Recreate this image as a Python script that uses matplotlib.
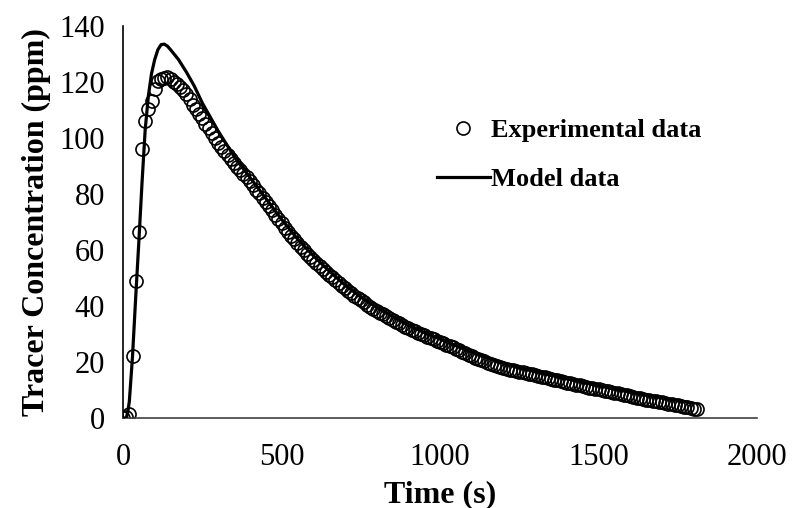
import numpy as np
import matplotlib
matplotlib.use("Agg")
import matplotlib.pyplot as plt

# measured tracer response, sampled every 10 s
exp_time = np.arange(0, 1820, 10)
exp_conc = [
    0.0, 0.4, 1.3, 22.2, 49.0, 66.5, 96.0, 106.0, 110.2, 113.3,
    117.6, 120.3, 121.0, 121.3, 121.6, 120.9, 120.1, 119.4, 118.3, 117.0,
    115.8, 114.0, 111.7, 110.2, 108.6, 107.2, 105.1, 103.4, 101.6, 100.1,
    98.3, 96.9, 95.2, 94.0, 92.5, 91.1, 89.7, 88.4, 87.1, 86.0,
    84.7, 83.2, 81.6, 80.2, 78.7, 77.3, 75.6, 74.2, 72.6, 71.1,
    69.5, 68.0, 66.6, 65.1, 63.8, 62.4, 61.1, 59.9, 58.6, 57.5,
    56.3, 55.3, 54.2, 53.1, 52.2, 51.2, 50.2, 49.2, 48.3, 47.3,
    46.3, 45.4, 44.5, 43.6, 42.8, 42.0, 41.3, 40.5, 39.8, 39.0,
    38.3, 37.6, 37.0, 36.3, 35.7, 35.0, 34.4, 33.8, 33.2, 32.6,
    32.0, 31.5, 31.0, 30.4, 29.9, 29.5, 29.0, 28.5, 28.1, 27.6,
    27.2, 26.7, 26.2, 25.8, 25.3, 24.8, 24.2, 23.7, 23.1, 22.6,
    22.0, 21.6, 21.1, 20.7, 20.2, 19.8, 19.4, 19.0, 18.6, 18.3,
    17.9, 17.6, 17.3, 17.0, 16.8, 16.5, 16.3, 16.0, 15.8, 15.6,
    15.4, 15.1, 14.8, 14.6, 14.3, 14.0, 13.7, 13.5, 13.2, 13.0,
    12.7, 12.4, 12.2, 11.9, 11.7, 11.4, 11.2, 10.9, 10.7, 10.5,
    10.3, 10.0, 9.7, 9.5, 9.2, 9.0, 8.8, 8.5, 8.3, 8.1,
    7.9, 7.6, 7.2, 7.0, 6.8, 6.6, 6.4, 6.2, 6.0, 5.8,
    5.7, 5.5, 5.2, 5.0, 4.8, 4.6, 4.3, 4.1, 3.9, 3.6,
    3.4, 3.2,
]

# model prediction
model_time = [0, 10, 15, 20, 30, 40, 50, 60, 70, 80, 90, 100, 110, 120, 130,
              140, 150, 175, 200, 225, 250, 300, 350, 400, 450, 500, 550, 600,
              650, 700, 750, 800, 850, 900, 950, 1000, 1100, 1200, 1300, 1400,
              1500, 1600, 1700, 1790]
model_conc = [0.0, 0.0, 2.0, 6.0, 22.0, 43.0, 63.0, 84.0, 103.0, 115.0, 123.0,
              128.0, 131.5, 133.3, 133.5, 132.8, 131.5, 128.0, 123.5, 118.5,
              112.5, 102.5, 93.5, 86.0, 78.5, 71.0, 64.0, 58.0, 52.5, 47.5,
              43.2, 39.5, 36.2, 33.2, 30.5, 28.2, 23.5, 19.5, 16.5, 14.0,
              11.5, 9.2, 7.2, 5.5]

plt.rcParams['font.family'] = ['Liberation Serif', 'DejaVu Serif']

fig = plt.figure(figsize=(7.92, 5.08), dpi=100)
ax = fig.add_axes([0.1553, 0.177, 0.8007, 0.772])

ax.plot(exp_time, exp_conc, linestyle='none', marker='o', markersize=9.4,
        markerfacecolor='none', markeredgecolor='black', markeredgewidth=1.2,
        label='Experimental data', zorder=2)
ax.plot(model_time, model_conc, color='black', linewidth=2.3,
        label='Model data', zorder=3)

ax.set_xlim(0, 2000)
ax.set_ylim(0, 140)
ax.set_xticks([0, 500, 1000, 1500, 2000])
ax.set_yticks(range(0, 141, 20))
ax.tick_params(axis='both', length=0, labelsize=22)
ax.tick_params(axis='y', pad=13)
ax.tick_params(axis='x', pad=18)

for side in ['top', 'right']:
    ax.spines[side].set_visible(False)
ax.spines['left'].set_linewidth(1.2)
ax.spines['bottom'].set_linewidth(1.2)
ax.spines['bottom'].set_color('#404040')

ax.set_xlabel('Time (s)', fontsize=23, fontweight='bold', labelpad=6)
ax.set_ylabel('Tracer Concentration (ppm)', fontsize=23, fontweight='bold',
              labelpad=6)

ax.legend(loc='upper left', bbox_to_anchor=(437 / 792, 1 - 119 / 508),
          bbox_transform=fig.transFigure, frameon=False,
          prop={'weight': 'bold', 'size': 19}, handlelength=2.0,
          handletextpad=0.05, labelspacing=0.95, borderpad=0,
          borderaxespad=0)

fig.savefig('out.png', dpi=100)
